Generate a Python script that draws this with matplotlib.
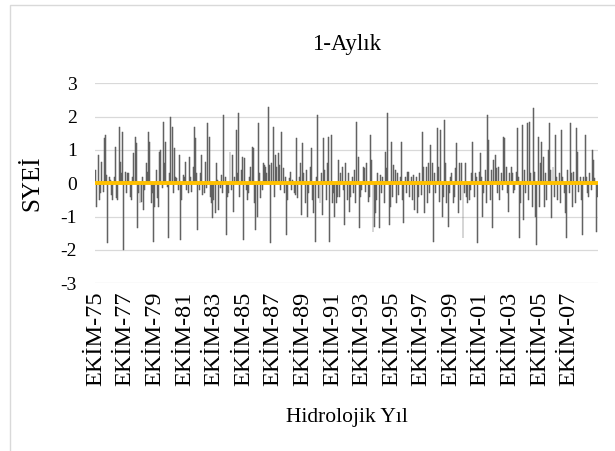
import numpy as np
import matplotlib
matplotlib.use('Agg')
import matplotlib.pyplot as plt
from matplotlib.patches import Rectangle

plt.rcParams['font.family'] = ['Liberation Serif', 'DejaVu Serif']

# 1-month index, hydrological years Oct-1975 .. Sep-2009 (one row per year)
syei = [
    0.4, -0.7, 0.85, -0.5, -0.3, 0.65, -0.25, 1.35, 1.45, 0.25, -1.8, 0.2,
    0.1, -0.35, -0.5, 0.2, 1.1, -0.45, -0.5, 1.7, 0.65, 0.3, 1.55, -2.0,
    0.35, -0.3, 0.3, 0.3, -0.4, -0.5, 0.2, 0.9, 1.4, 1.2, -1.35, -0.3,
    -0.6, -0.55, 0.2, -0.8, -0.2, 0.6, 0.35, 1.55, 1.25, -0.6, -0.3, -1.75,
    -0.7, 0.4, -0.45, -0.7, 0.95, 1.0, -0.15, 1.85, 0.6, 1.25, -0.1, -1.65,
    0.3, 2.0, 1.7, -0.3, 1.05, 0.2, 0.15, -0.2, 0.85, -1.7, -0.5, 0.25,
    0.2, 0.65, -0.2, -0.3, 0.8, 0.2, -0.25, 0.5, 1.7, 1.35, 0.3, -1.4,
    -0.2, 0.3, 0.85, -0.35, -0.3, 0.65, -0.15, 1.8, 1.4, -0.4, -0.6, -1.05,
    -0.5, -0.9, 0.6, 0.1, -0.8, -0.15, 0.25, -0.3, 2.05, 0.2, -1.55, -0.4,
    -0.3, 0.95, -0.2, 0.85, -0.85, 0.2, 1.6, 0.3, 2.1, -0.4, 0.4, 0.8,
    -1.7, 0.75, -0.2, -0.5, -0.3, 0.2, 0.5, 1.1, 1.05, -0.6, -1.4, -1.0,
    1.8, 0.3, -0.45, -0.2, 0.6, 0.55, 0.5, 0.3, 2.3, 0.55, -1.8, 0.6,
    1.7, -0.4, 0.85, 0.5, 0.9, 0.55, -0.2, 1.55, 0.45, -0.3, 0.2, -1.55,
    -0.5, 0.15, 0.35, -0.2, 0.1, -0.3, -0.35, 1.35, -0.45, 0.2, 0.6, -0.95,
    1.2, 0.3, -0.6, 0.4, -1.0, -0.3, 0.5, 1.05, -0.5, -0.9, -1.75, 0.2,
    2.05, -0.45, -0.6, 0.3, -0.95, 1.35, 0.4, -0.5, 0.6, 1.4, -1.75, 1.45,
    -0.6, -0.3, -1.0, -0.6, -0.4, 0.7, -0.4, 0.3, 0.5, -0.2, -1.25, 0.6,
    -0.5, 0.3, -0.85, -0.4, 0.2, -0.3, 0.4, -0.6, 1.85, 0.8, -1.35, -0.4,
    -0.2, 0.5, 0.45, -0.25, 0.6, -0.55, -0.4, 1.45, 0.7, -1.45, -1.3, -0.9,
    -0.5, 0.3, -1.35, 0.25, -0.3, 0.2, -0.6, 0.95, 0.45, 2.1, -1.25, -0.7,
    1.25, -0.4, 0.55, 0.4, -0.6, 0.3, -0.35, 0.2, 1.25, -0.5, -1.2, 0.2,
    -0.3, 0.35, 0.35, -0.4, 0.2, -0.5, 0.25, -0.8, 0.2, -0.9, -0.4, 0.3,
    -0.35, 1.55, 0.5, -0.9, 0.5, -0.6, 0.6, -0.3, 1.15, 0.6, -1.75, 0.3,
    -0.3, 1.65, 0.5, -0.55, 1.6, -1.0, -0.4, 1.9, 0.6, -0.6, -1.3, -0.3,
    0.2, 0.3, -0.6, -0.4, 0.45, 1.2, -0.9, 0.6, -0.5, 0.6, -1.65, -0.3,
    0.6, -0.4, -0.6, -0.5, -0.2, 0.3, 1.25, -0.4, 0.3, 0.2, -1.8, 0.35,
    0.9, 0.2, -1.0, -0.3, 0.4, -0.6, 2.05, 1.3, -0.5, 0.4, -1.35, 0.7,
    0.85, 0.45, -0.3, 0.5, -0.5, 0.3, -0.2, 1.4, 1.35, 0.5, -0.3, -0.85,
    0.3, 0.5, 0.3, -0.3, -0.2, 0.35, 1.65, 0.2, -1.65, -0.6, 1.75, -1.1,
    0.4, -0.3, 1.8, -0.5, 1.85, 0.3, -0.7, 2.25, 0.35, -1.0, -1.85, 1.4,
    -0.7, 0.6, 1.25, 0.8, -0.7, 0.3, -0.5, 1.0, 1.8, 0.4, -1.05, 0.5,
    -0.4, 1.45, 0.2, -0.5, 0.3, -0.6, 1.6, 0.2, -0.3, -0.9, -1.65, 0.4,
    -0.3, 1.8, 0.3, -0.7, 0.35, -0.6, 1.65, 0.95, -0.25, 0.2, -0.5, -1.55,
    0.2, 1.45, 0.2, -0.3, -0.4, 0.3, -0.2, 1.0, 0.7, 0.15, -1.45, -0.4,
]
baseline = [0.0] * len(syei)
tick_labels = ['EKİM-75', 'EKİM-77', 'EKİM-79', 'EKİM-81', 'EKİM-83', 'EKİM-85',
               'EKİM-87', 'EKİM-89', 'EKİM-91', 'EKİM-93', 'EKİM-95', 'EKİM-97',
               'EKİM-99', 'EKİM-01', 'EKİM-03', 'EKİM-05', 'EKİM-07']
y_ticks = [-3, -2, -1, 0, 1, 2, 3]

x = np.arange(len(syei))

fig = plt.figure(figsize=(6.15, 4.51), dpi=100)
fig.patches.append(Rectangle((10 / 615, -0.1), 1.2, 1.1 - 5 / 451,
                             transform=fig.transFigure, fill=False,
                             edgecolor='#d9d9d9', linewidth=1))

ax = fig.add_axes([95 / 615, 1 - 283.3 / 451, 503 / 615, 200 / 451])
ax.bar(x, syei, width=0.8, color='#6a6a6a', edgecolor='#5a5a5a',
       linewidth=0.35, zorder=2)
ax.plot(x, baseline, color='#FFC000', linewidth=2.8, zorder=3)

ax.set_xlim(-0.5, len(syei) - 0.5)
ax.set_ylim(-3, 3)
ax.set_yticks(y_ticks)
ax.set_yticklabels([str(v) for v in y_ticks], fontsize=14)
ax.set_xticks(x[::24])
ax.set_xticklabels(tick_labels, rotation=90, fontsize=17.5)
ax.tick_params(axis='both', length=0)
ax.tick_params(axis='y', pad=13)
ax.tick_params(axis='x', pad=6)
ax.grid(axis='y', color='#d9d9d9', linewidth=0.9, zorder=0)
ax.set_axisbelow(True)
for s in ax.spines.values():
    s.set_visible(False)

ax.set_title('1-Aylık', fontsize=16.5, pad=24)
ax.set_xlabel('Hidrolojik Yıl', fontsize=15.5, labelpad=16)
ax.set_ylabel('SYEİ', fontsize=18, labelpad=12)

plt.savefig('out.png', dpi=100)
